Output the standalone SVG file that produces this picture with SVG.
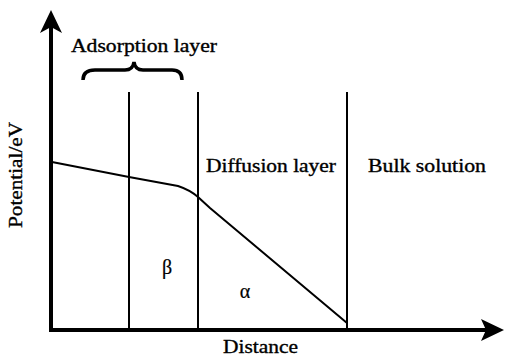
<svg xmlns="http://www.w3.org/2000/svg" width="506" height="356" viewBox="0 0 506 356">
<style>
text{font-family:"Liberation Serif","Times New Roman",serif;fill:#000;stroke:#000;stroke-width:0.35}
.lbl{font-size:18px}
.greek{font-size:20px;stroke-width:0.2}
.thin{stroke:#000;stroke-width:2;fill:none}
.axis{stroke:#000;stroke-width:4;fill:none}
</style>
<rect width="506" height="356" fill="#fff"/>
<g id="axes">
<line class="axis" x1="51" y1="332" x2="51" y2="26"/>
<line class="axis" x1="49" y1="330" x2="490" y2="330"/>
<path d="M51 10 L62 33 L51 27 L40 33 Z" fill="#000"/>
<path d="M504 330 L481 341 L486 330 L481 319 Z" fill="#000"/>
</g>
<g id="connectors">
<line class="thin" x1="129" y1="92" x2="129" y2="330"/>
<line class="thin" x1="198" y1="92" x2="198" y2="330"/>
<line class="thin" x1="347" y1="92" x2="347" y2="330"/>
<path class="thin" d="M52 162 L129 177 L178 186 Q190 190 198 197 L210 208 L347 323"/>
<path d="M83 80 Q83 70 95 70 L125 70 Q133 70 134 62 Q135 70 143 70 L172 70 Q182 70 182 80" stroke="#000" stroke-width="3.5" fill="none"/>
</g>
<g id="adsorption"><text class="lbl" x="71" y="52" textLength="146" lengthAdjust="spacingAndGlyphs">Adsorption layer</text></g>
<g id="diffusion"><text class="lbl" x="206" y="172" textLength="130" lengthAdjust="spacingAndGlyphs">Diffusion layer</text></g>
<g id="bulk"><text class="lbl" x="368" y="172" textLength="118" lengthAdjust="spacingAndGlyphs">Bulk solution</text></g>
<g id="beta"><text class="greek" x="167" y="274" text-anchor="middle">β</text></g>
<g id="alpha"><text class="greek" x="245" y="298" text-anchor="middle">α</text></g>
<g id="ylabel"><text class="lbl" transform="translate(22 228) rotate(-90)" textLength="106" lengthAdjust="spacingAndGlyphs">Potential/eV</text></g>
<g id="xlabel"><text class="lbl" x="223" y="353" textLength="75" lengthAdjust="spacingAndGlyphs">Distance</text></g>
</svg>
